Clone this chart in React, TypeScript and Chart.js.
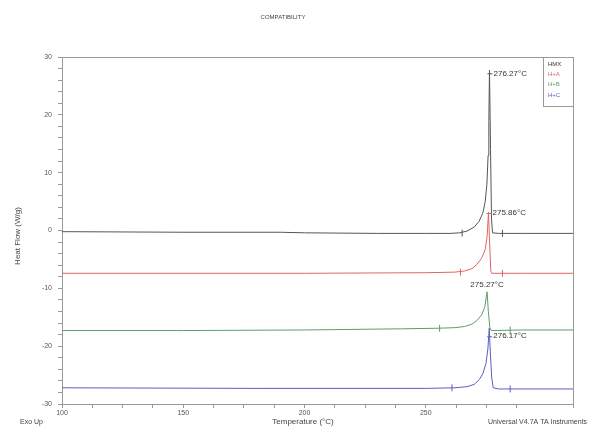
import { useEffect, useRef } from "react";
import { Chart, registerables } from "chart.js";

Chart.register(...registerables);

const FONT = "'Liberation Sans', Arial, sans-serif";

const chartTitle = "COMPATIBILITY";
const xTitle = "Temperature (°C)";
const yTitle = "Heat Flow (W/g)";
const cornerLeft = "Exo Up";
const cornerRight = "Universal V4.7A TA Instruments";

const seriesNames = ["HMX", "H+A", "H+B", "H+C"];
const seriesColors = ["#555555", "#e06464", "#5f9c68", "#5c5cc6"];

// HMX (black)
const hmxTemps = [100, 150, 190, 200, 230, 250, 260, 264, 267, 270, 272, 273.5, 274.5, 275.2, 275.7, 276.0, 276.27, 276.7, 277.1, 277.5, 280, 290, 310.7];
const hmxFlow = [-0.2, -0.3, -0.3, -0.4, -0.5, -0.5, -0.5, -0.4, -0.1, 0.6, 1.6, 3.0, 5.0, 8.0, 13, 19, 27.7, 14, 2, -0.4, -0.5, -0.5, -0.5];

// H+A (red)
const redTemps = [100, 200, 250, 262, 266, 269, 271, 273, 274.5, 275.3, 275.86, 276.3, 276.8, 277.2, 290, 310.7];
const redFlow = [-7.4, -7.4, -7.3, -7.2, -7.0, -6.6, -5.9, -4.8, -3.3, -1.0, 3.2, -2.0, -7.0, -7.4, -7.4, -7.4];

// H+B (green)
const greenTemps = [100, 150, 200, 240, 255, 262, 266, 269, 271, 273, 274.3, 275.27, 275.8, 276.4, 277, 290, 310.7];
const greenFlow = [-17.3, -17.3, -17.2, -17.0, -16.9, -16.8, -16.6, -16.2, -15.6, -14.6, -13.3, -10.6, -14.0, -16.8, -17.3, -17.2, -17.2];

// H+C (blue)
const blueTemps = [100, 180, 250, 262, 267, 270, 272, 273.5, 274.8, 275.6, 276.17, 276.6, 277.2, 277.8, 280, 310.7];
const blueFlow = [-27.2, -27.3, -27.3, -27.2, -27.0, -26.6, -25.8, -24.8, -23.0, -20.5, -16.9, -21.0, -25.5, -27.2, -27.4, -27.4];

// peak annotations
const peakTemps = [276.27, 275.86, 275.27, 276.17];
const peakFlows = [27.7, 3.2, -10.6, -16.9];
const peakLabels = ["276.27°C", "275.86°C", "275.27°C", "276.17°C"];

// integration limit markers
const markerTemps = [[265, 281.6], [264.3, 281.6], [255.7, 284.8], [260.8, 284.8]];
const markerFlows = [[-0.45, -0.5], [-7.2, -7.4], [-16.9, -17.2], [-27.2, -27.4]];

const xMin = 100;
const xMax = 310.7;
const yMin = -30;
const yMax = 30;

const zip = (xs: number[], ys: number[]) => xs.map((x, i) => ({ x, y: ys[i] }));

export default function App() {
  const ref = useRef<HTMLCanvasElement | null>(null);

  useEffect(() => {
    if (!ref.current) return;
    const allSeries = [
      zip(hmxTemps, hmxFlow),
      zip(redTemps, redFlow),
      zip(greenTemps, greenFlow),
      zip(blueTemps, blueFlow),
    ];

    const lineSets = allSeries.map((d, i) => ({
      label: seriesNames[i],
      data: d,
      borderColor: seriesColors[i],
      borderWidth: 1,
      pointRadius: 0,
      tension: 0,
      showLine: true,
    }));

    const markerSets = markerTemps.map((ts, i) => ({
      label: seriesNames[i] + " limits",
      data: zip(ts, markerFlows[i]),
      showLine: false,
      pointStyle: "line" as const,
      rotation: 90,
      pointRadius: 3.5,
      borderColor: seriesColors[i],
      backgroundColor: seriesColors[i],
      pointBorderWidth: 1,
    }));

    const annot = {
      id: "annot",
      afterDraw(chart: any) {
        const ctx = chart.ctx;
        const ca = chart.chartArea;
        const xs = chart.scales.x;
        const ys = chart.scales.y;
        ctx.save();
        // frame (top + right)
        ctx.strokeStyle = "#9a9a9a";
        ctx.lineWidth = 1;
        ctx.beginPath();
        ctx.moveTo(ca.left, Math.round(ca.top) + 0.5);
        ctx.lineTo(ca.right + 0.5, Math.round(ca.top) + 0.5);
        ctx.lineTo(ca.right + 0.5, ca.bottom);
        ctx.stroke();

        // title
        ctx.fillStyle = "#444";
        ctx.font = `6px ${FONT}`;
        ctx.textAlign = "center";
        ctx.textBaseline = "middle";
        ctx.fillText(chartTitle, 283, 17);

        // axis titles
        ctx.font = `8px ${FONT}`;
        ctx.fillText(xTitle, 303, 422);
        ctx.save();
        ctx.translate(18, 236);
        ctx.rotate(-Math.PI / 2);
        ctx.fillText(yTitle, 0, 0);
        ctx.restore();

        ctx.font = `7px ${FONT}`;
        ctx.textAlign = "left";
        ctx.fillText(cornerLeft, 20, 422);
        ctx.fillText(cornerRight, 488, 422);

        // peak labels
        ctx.font = `8px ${FONT}`;
        ctx.fillStyle = "#333";
        peakLabels.forEach((lab, i) => {
          const px = xs.getPixelForValue(peakTemps[i]);
          const py = ys.getPixelForValue(peakFlows[i]);
          ctx.strokeStyle = seriesColors[i];
          if (i === 2) {
            ctx.textAlign = "center";
            ctx.fillText(lab, px, py - 7);
          } else {
            ctx.textAlign = "left";
            const ly = i === 0 ? py + 3 : i === 3 ? py + 8 : py + 1;
            ctx.beginPath();
            ctx.moveTo(px - 2, ly + 0.5);
            ctx.lineTo(px + 3, ly + 0.5);
            ctx.stroke();
            ctx.fillText(lab, px + 4, ly);
          }
        });

        // legend box
        const lx = 543;
        const ly0 = 57;
        ctx.fillStyle = "#fff";
        ctx.fillRect(lx, ly0, ca.right - lx, 49);
        ctx.strokeStyle = "#9a9a9a";
        ctx.strokeRect(lx + 0.5, ly0 + 0.5, ca.right - lx, 49);
        ctx.font = `6px ${FONT}`;
        ctx.textAlign = "left";
        seriesNames.forEach((n, i) => {
          ctx.fillStyle = i === 0 ? "#333" : seriesColors[i];
          ctx.fillText(n, lx + 5, ly0 + 7 + i * 10.3);
        });
        ctx.restore();
      },
    };

    const chart = new Chart(ref.current, {
      type: "scatter",
      data: { datasets: [...lineSets, ...markerSets] as any },
      options: {
        animation: false,
        responsive: false,
        maintainAspectRatio: false,
        layout: { padding: { top: 57, right: 22, left: 0, bottom: 0 } },
        plugins: {
          legend: { display: false },
          tooltip: { enabled: false },
          title: { display: false },
        },
        scales: {
          x: {
            type: "linear",
            min: xMin,
            max: xMax,
            afterFit: (s: any) => {
              s.height = 28;
            },
            border: { display: true, color: "#9a9a9a", width: 1 },
            grid: { drawOnChartArea: false, drawTicks: true, tickLength: 4, color: "#9a9a9a" },
            ticks: {
              stepSize: 12.5,
              autoSkip: false,
              maxRotation: 0,
              padding: 1,
              color: "#555",
              font: { size: 7, family: FONT },
              callback: (v: any) => (Number(v) % 50 === 0 ? String(v) : ""),
            },
          },
          y: {
            type: "linear",
            min: yMin,
            max: yMax,
            afterFit: (s: any) => {
              s.width = 62;
            },
            border: { display: true, color: "#9a9a9a", width: 1 },
            grid: { drawOnChartArea: false, drawTicks: true, tickLength: 4, color: "#9a9a9a" },
            ticks: {
              stepSize: 2,
              autoSkip: false,
              padding: 6,
              color: "#555",
              font: { size: 7, family: FONT },
              callback: (v: any) => (Number(v) % 10 === 0 ? String(v) : ""),
            },
          },
        },
      },
      plugins: [annot],
    });

    return () => chart.destroy();
  }, []);

  return (
    <div style={{ position: "fixed", left: 0, top: 0, width: 595, height: 432, background: "#fff" }}>
      <canvas ref={ref} width={595} height={432} style={{ width: 595, height: 432, display: "block" }} />
    </div>
  );
}
